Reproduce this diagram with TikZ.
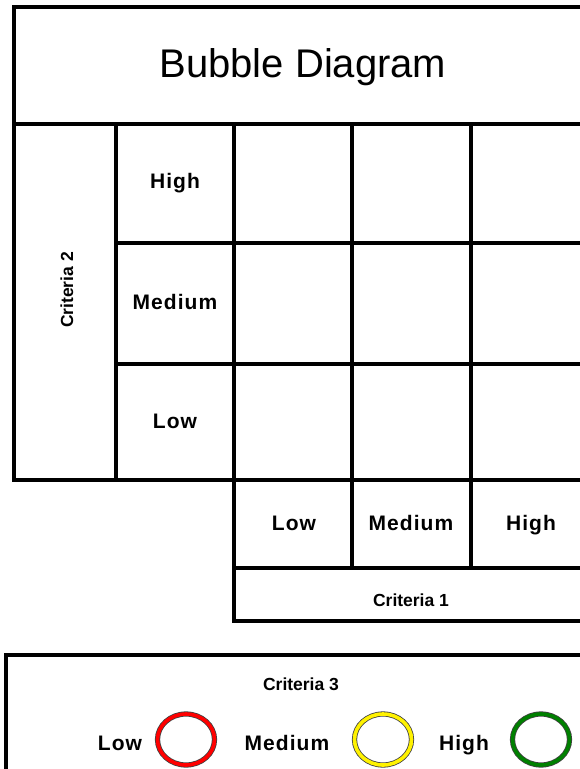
\documentclass[tikz,border=0pt]{standalone}
\usepackage{fontspec}
\setmainfont{Liberation Sans}
\newfontfamily\lblfont[LetterSpace=5.0]{Liberation Sans Bold}
\newfontfamily\critfont{Liberation Sans Bold}
\begin{document}
\begin{tikzpicture}[x=1pt, y=-1pt,
    frame/.style={line width=4pt, line cap=rect},
    lbl/.style={anchor=base, inner sep=0pt, font=\lblfont\fontsize{21}{25}\selectfont},
    crit/.style={anchor=base, inner sep=0pt, font=\critfont\fontsize{17.5}{21}\selectfont},
    ring/.style={line width=0.8pt, draw=black!75, double distance=3.6pt}]
    \useasboundingbox (0,0) rectangle (580,769);
    \clip (0,0) rectangle (580,769);

    % title box and the Criteria 2 column
    \draw[frame] (620,7) -- (13.5,7) -- (13.5,480) -- (620,480);
    \draw[frame] (13.5,124) -- (620,124);
    \node[anchor=base, inner sep=0pt, font=\fontsize{40}{48}\selectfont] (title) at (303,77) {Bubble Diagram};

    % grid of cells
    \draw[frame] (116,124) -- (116,480);
    \draw[frame] (234,124) -- (234,621);
    \foreach \gx in {352,471}
        \draw[frame] (\gx,124) -- (\gx,568);
    \foreach \gy in {243,364}
        \draw[frame] (116,\gy) -- (620,\gy);
    \draw[frame] (234,568) -- (620,568);
    \draw[frame] (234,621) -- (620,621);

    % Criteria 2 levels
    \node[crit, rotate=90] (crit2) at (73,290) {Criteria 2};
    \node[lbl] (rowhigh) at (175,188) {High};
    \node[lbl] (rowmed) at (175,309) {Medium};
    \node[lbl] (rowlow) at (175,428) {Low};

    % Criteria 1 levels
    \node[lbl] (collow) at (294,530) {Low};
    \node[lbl] (colmed) at (411,530) {Medium};
    \node[lbl] (colhigh) at (531,530) {High};
    \node[crit] (crit1) at (411,606) {Criteria 1};

    % legend for Criteria 3
    \draw[frame] (6,800) -- (6,655) -- (620,655);
    \node[crit] (crit3) at (301,690) {Criteria 3};
    \node[lbl] (leglow) at (120,750) {Low};
    \node[lbl] (legmed) at (287,750) {Medium};
    \node[lbl] (leghigh) at (464,750) {High};
    \draw[ring, double=red] (186,739.5) ellipse (28.5 and 25.5);
    \draw[ring, double=yellow] (383,739.5) ellipse (28.5 and 25.5);
    \draw[ring, double=green!50!black] (541,739.5) ellipse (28.5 and 25.5);
\end{tikzpicture}
\end{document}
